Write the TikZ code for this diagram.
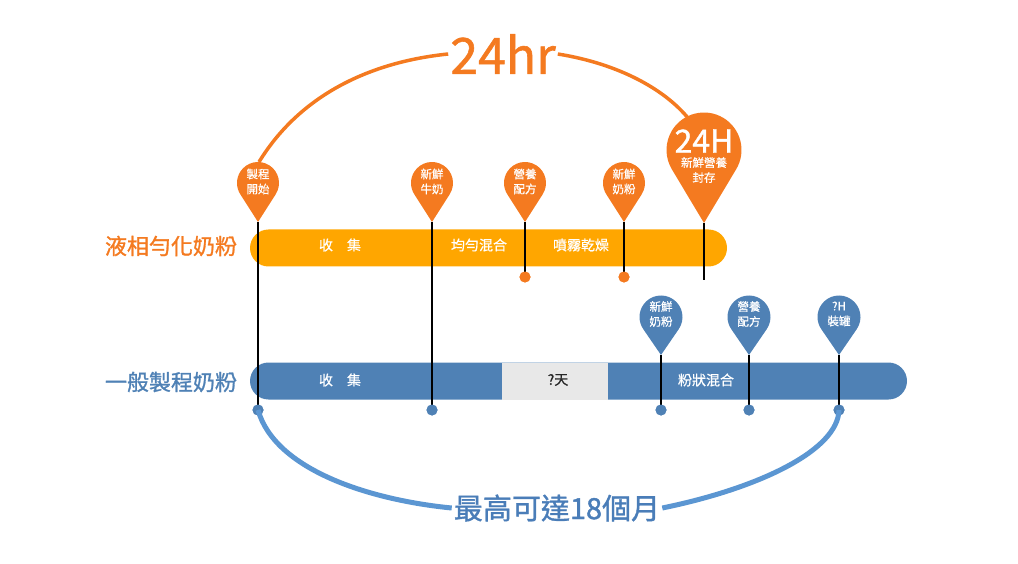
\documentclass[tikz,border=0pt]{standalone}
\usepackage{fontspec}
\setmainfont{Noto Sans CJK TC}
\newfontfamily\fbig[FakeBold=1.2]{Noto Sans CJK TC}
\newfontfamily\fsmall[FakeBold=0.6]{Noto Sans CJK TC}
\definecolor{orpin}{HTML}{F47A20}
\definecolor{orbar}{HTML}{FFA600}
\definecolor{blbar}{HTML}{4F81B5}
\definecolor{blcurve}{HTML}{5B96D2}
\definecolor{bltext}{HTML}{4A7DB8}
\definecolor{graybar}{HTML}{E8E8E8}
\tikzset{
  barshape/.style={rectangle, rounded corners=18.5pt, inner sep=0pt, minimum height=37pt},
  bartext/.style={font=\fsmall\fontsize{14}{16}\selectfont, text=white, inner sep=0pt},
  pintext/.style={font=\fsmall\fontsize{11.5}{15}\selectfont, text=white, align=center, inner sep=0pt},
  rowlabel/.style={font=\fbig\fontsize{22}{24}\selectfont, inner sep=0pt},
  stem/.style={line width=2pt, black},
  dotnode/.style={circle, inner sep=0pt, minimum size=11pt},
  orcurve/.style={line width=3.5pt, orpin},
  blcurvestyle/.style={line width=5pt, blcurve},
  pics/droppin/.style n args={3}{code={
    \pgfmathsetmacro\pa{asin(#1/#2)}
    \fill[#3] (0,#2) -- (\pa:#1) arc[start angle=\pa, end angle=-180-\pa, radius=#1] -- cycle;
    \coordinate (-tip) at (0,#2);
  }}
}
\begin{document}
\begin{tikzpicture}[x=1pt,y=-1pt]
\useasboundingbox (0,0) rectangle (1018,564);

% row labels
\node[rowlabel, text=orpin] (lab1) at (171,246) {液相勻化奶粉};
\node[rowlabel, text=blbar] (lab2) at (171,382) {一般製程奶粉};

% bars
\node[barshape, fill=orbar, minimum width=477pt] (obar) at (488.5,248) {};
\node[barshape, fill=blbar, minimum width=657pt] (bbar) at (578.5,381) {};
\node[rectangle, fill=graybar, inner sep=0pt, minimum width=106pt, minimum height=37pt] (gbar) at (555,381) {};

\node[bartext] (t1) at (340,245) {收　集};
\node[bartext] (t2) at (479,245) {均勻混合};
\node[bartext] (t3) at (581,245) {噴霧乾燥};
\node[bartext] (t4) at (340,380) {收　集};
\node[bartext, text=black!85] (t5) at (558,380) {?天};
\node[bartext] (t6) at (706,380) {粉狀混合};

% dots
\node[dotnode, fill=orpin] (od1) at (525,277) {};
\node[dotnode, fill=orpin] (od2) at (624,277) {};
\coordinate (oend) at (704,280);
\node[dotnode, fill=blbar] (bd1) at (258,410) {};
\node[dotnode, fill=blbar] (bd2) at (432,410) {};
\node[dotnode, fill=blbar] (bd3) at (661,410) {};
\node[dotnode, fill=blbar] (bd4) at (749,410) {};
\node[dotnode, fill=blbar] (bd5) at (839,410) {};

% pins
\pic (p1) at (258,183) {droppin={21}{39}{orpin}};
\pic (p2) at (432,183) {droppin={21}{39}{orpin}};
\pic (p3) at (525,183) {droppin={21}{39}{orpin}};
\pic (p4) at (624,183) {droppin={21}{39}{orpin}};
\pic (p5) at (704,150) {droppin={37.5}{73}{orpin}};
\pic (q1) at (661,317) {droppin={21.5}{38}{blbar}};
\pic (q2) at (749,317) {droppin={21.5}{38}{blbar}};
\pic (q3) at (839,317) {droppin={21.5}{38}{blbar}};

% stems
\draw[stem] (p1-tip) -- (bd1.center);
\draw[stem] (p2-tip) -- (bd2.center);
\draw[stem] (p3-tip) -- (od1.center);
\draw[stem] (p4-tip) -- (od2.center);
\draw[stem] (p5-tip) -- (oend);
\draw[stem] (q1-tip) -- (bd3.center);
\draw[stem] (q2-tip) -- (bd4.center);
\draw[stem] (q3-tip) -- (bd5.center);
% redraw dots on top
\foreach \d in {od1,od2}{\fill[orpin] (\d) circle[radius=5.5];}
\foreach \d in {bd1,bd2,bd3,bd4,bd5}{\fill[blbar] (\d) circle[radius=5.5];}

% pin texts
\node[pintext] (pt1) at (258,181.5) {製程\\開始};
\node[pintext] (pt2) at (432,181.5) {新鮮\\牛奶};
\node[pintext] (pt3) at (525,181.5) {營養\\配方};
\node[pintext] (pt4) at (624,181.5) {新鮮\\奶粉};
\node[font=\fbig\fontsize{32}{34}\selectfont, text=white, inner sep=0pt] (pt5a) at (704,141) {24H};
\node[pintext] (pt5b) at (704,170) {新鮮營養\\封存};
\node[pintext] (qt1) at (661,314) {新鮮\\奶粉};
\node[pintext] (qt2) at (749,314) {營養\\配方};
\node[pintext] (qt3) at (839,314) {?H\\裝罐};

% top curve and label
\coordinate (arcL) at (259,162);
\coordinate (arcR) at (688,118);
\node[font=\fbig\fontsize{50}{52}\selectfont, text=orpin, inner sep=2pt] (t24) at (503,54) {24hr};
\draw[orcurve] (arcL) .. controls (300,95) and (370,62) .. (t24.west);
\draw[orcurve] (t24.east) .. controls (620,64) and (665,90) .. (arcR);

% bottom curve and label
\node[font=\fbig\fontsize{29}{31}\selectfont, text=bltext, inner sep=2pt] (t18) at (557,508) {最高可達18個月};
\draw[blcurvestyle] (bd1.center) .. controls (275,470) and (370,500) .. (t18.west);
\draw[blcurvestyle] (t18.east) .. controls (760,488) and (838,450) .. (bd5.center);
\end{tikzpicture}
\end{document}
